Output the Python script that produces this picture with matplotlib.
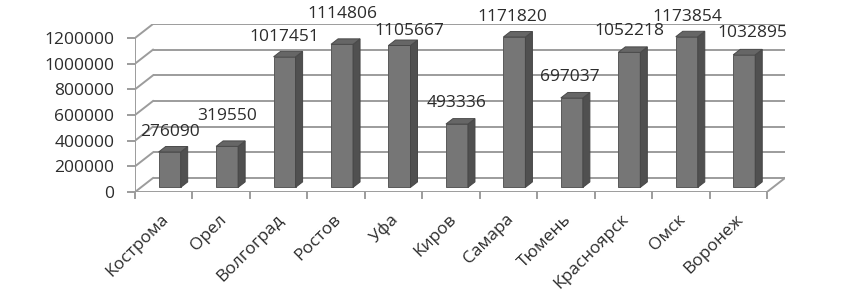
import matplotlib
matplotlib.use("Agg")
import matplotlib.pyplot as plt
from matplotlib.patches import Polygon
from matplotlib.transforms import offset_copy, ScaledTranslation

# ---- data ----
cities = ["Кострома", "Орел", "Волгоград", "Ростов", "Уфа", "Киров",
          "Самара", "Тюмень", "Красноярск", "Омск", "Воронеж"]
values = [276090, 319550, 1017451, 1114806, 1105667, 493336,
          1171820, 697037, 1052218, 1173854, 1032895]
yticks = [0, 200000, 400000, 600000, 800000, 1000000, 1200000]

# ---- layout / style ----
label_dx = [0, 0, 0, 0, 10, 0, -2, -2, 0, 1, 8]     # pixel nudges of value labels
label_dy = [20, 30, 20, 30, 14, 21, 20, 21, 21, 20, 22]
FONT = "Open Sans"
FS = 12.5
TXT = "#2c2c2c"
GRID = "#9c9c9c"
n = len(cities)
ymax = yticks[-1]
dxd = 18 / 57.45            # depth offset in category units
dyd = 14 / (154 / ymax)     # depth offset in value units
df, db = 0.33, 0.72         # bar front/back depth fractions
bw = 0.383

fig = plt.figure(figsize=(8.43, 2.96), dpi=100)
ax = fig.add_axes([135 / 843, (296 - 192) / 296, 650 / 843, 168 / 296])
ax.set_xlim(0, n + dxd)
ax.set_ylim(0, ymax + dyd)
for s in ax.spines.values():
    s.set_visible(False)

# walls / gridlines
for v in yticks:
    ax.plot([dxd, n + dxd], [v + dyd, v + dyd], color=GRID, lw=1.4, zorder=1, solid_capstyle='butt')
    ax.plot([0, dxd], [v, v + dyd], color=GRID, lw=1.4, zorder=1)
# floor
ax.plot([n, n + dxd], [0, dyd], color=GRID, lw=1.4, zorder=1)
ax.plot([0, n], [0, 0], color=GRID, lw=1.4, zorder=1)
ax.plot([0, 0], [0, ymax], color=GRID, lw=1.4, zorder=1)
# x boundary ticks
for i in range(n + 1):
    ax.plot([i, i], [0, -6 / (154 / ymax)], color=GRID, lw=1.4, zorder=1, clip_on=False)

# bars
ddx, ddy = (db - df) * dxd, (db - df) * dyd
for i, v in enumerate(values):
    xc = i + 0.5 + df * dxd
    b = df * dyd
    ax.bar(xc, v, width=bw, bottom=b, color="#767676", edgecolor="#5a5a5a",
           lw=0.7, zorder=3)
    xl, xr = xc - bw / 2, xc + bw / 2
    top = v + b
    side = Polygon([(xr, b), (xr + ddx, b + ddy), (xr + ddx, top + ddy), (xr, top)],
                   closed=True, facecolor="#505050", edgecolor="#464646", lw=0.7, zorder=3)
    ax.add_patch(side)
    topf = Polygon([(xl, top), (xr, top), (xr + ddx, top + ddy), (xl + ddx, top + ddy)],
                   closed=True, facecolor="#666666", edgecolor="#4a4a4a", lw=0.7, zorder=3)
    ax.add_patch(topf)
    tr = offset_copy(ax.transData, fig=fig, x=label_dx[i], y=label_dy[i], units='dots')
    ax.text(xc, top, str(v), transform=tr, ha='center', va='center',
            fontsize=FS, color=TXT, family=FONT, zorder=5, clip_on=False)

# y ticks
ax.set_yticks(yticks)
ax.set_yticklabels([str(t) for t in yticks], fontsize=FS, color=TXT, family=FONT)
ax.tick_params(axis='y', length=6, width=1.4, color=GRID, pad=9)

# x ticks
ax.set_xticks([i + 0.5 for i in range(n)])
ax.set_xticklabels(cities, rotation=45, ha='right', rotation_mode='anchor',
                   fontsize=FS, color=TXT, family=FONT, va='top')
ax.tick_params(axis='x', length=0, pad=14)
for lab in ax.get_xticklabels():
    lab.set_transform(lab.get_transform() + ScaledTranslation(-3 / 100, 0, fig.dpi_scale_trans))

fig.savefig("out.png", dpi=100, facecolor="white")
